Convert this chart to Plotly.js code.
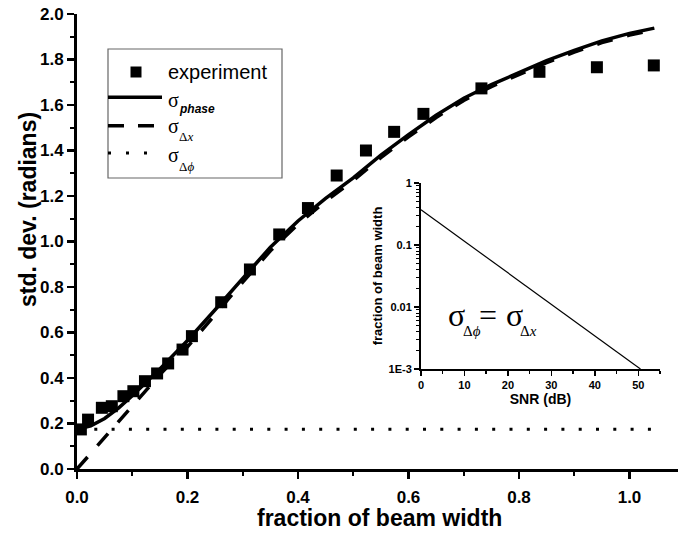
<!DOCTYPE html>
<html>
<head>
<meta charset="utf-8">
<script src="https://cdn.plot.ly/plotly-3.0.1.min.js"></script>
<style>html,body{margin:0;padding:0;background:#fff;}#chart{width:678px;height:533px;}</style>
</head>
<body>
<div id="chart"></div>
<script>
// ---- data ----
const expX = [0.007, 0.02, 0.045, 0.063, 0.084, 0.102, 0.123, 0.145, 0.165, 0.191, 0.208, 0.261, 0.313, 0.366, 0.418, 0.470, 0.523, 0.574, 0.627, 0.732, 0.837, 0.941, 1.044];
const expY = [0.174, 0.217, 0.269, 0.276, 0.320, 0.342, 0.386, 0.420, 0.464, 0.525, 0.584, 0.733, 0.877, 1.031, 1.147, 1.290, 1.400, 1.482, 1.561, 1.673, 1.746, 1.766, 1.774];

const curveX = [0, 0.025, 0.05, 0.075, 0.1, 0.125, 0.15, 0.175, 0.2, 0.25, 0.3, 0.35, 0.4, 0.45, 0.5, 0.55, 0.6, 0.65, 0.7, 0.75, 0.8, 0.85, 0.9, 0.95, 1.0, 1.045];
const phaseY = [0.175, 0.190, 0.222, 0.268, 0.322, 0.380, 0.440, 0.502, 0.565, 0.700, 0.840, 0.975, 1.090, 1.190, 1.280, 1.380, 1.470, 1.555, 1.630, 1.690, 1.742, 1.795, 1.840, 1.882, 1.915, 1.938];
const dxY    = [0.000, 0.070, 0.140, 0.210, 0.280, 0.350, 0.415, 0.478, 0.537, 0.678, 0.822, 0.959, 1.076, 1.177, 1.268, 1.369, 1.460, 1.545, 1.620, 1.681, 1.734, 1.786, 1.832, 1.874, 1.907, 1.930];

const dphiX = [0, 1.04];
const dphiY = [0.175, 0.175];

const snrX  = [0, 50.5];
const fracY = [0.37, 0.001];

const xTickVals = [0, 0.2, 0.4, 0.6, 0.8, 1.0];
const yTickVals = [0, 0.2, 0.4, 0.6, 0.8, 1.0, 1.2, 1.4, 1.6, 1.8, 2.0];
const insetXTicks = [0, 10, 20, 30, 40, 50];
const insetYTicks = [0.001, 0.01, 0.1, 1];
const insetYLabels = ['1E-3', '0.01', '0.1', '1'];

const legendLabels = ['experiment', 'phase', 'Δ<i>x</i>', 'Δ<i>ϕ</i>'];

// ---- layout helpers (pixel -> paper) ----
const L = 77, R = 678, T = 14, B = 469;
const PW = R - L, PH = B - T;
const px = v => (v - L) / PW;
const py = v => (B - v) / PH;

const SANS = 'Liberation Sans, Arial, sans-serif';
const SERIF = 'Liberation Serif, Times New Roman, serif';

const traces = [
  {x: dphiX, y: dphiY, mode: 'lines', line: {color: '#000', width: 3, dash: '3px,14.3px'}, hoverinfo: 'skip'},
  {x: curveX, y: dxY, mode: 'lines', line: {color: '#000', width: 3.5, dash: '16px,15px'}, hoverinfo: 'skip'},
  {x: curveX, y: phaseY, mode: 'lines', line: {color: '#000', width: 3.5}, hoverinfo: 'skip'},
  {x: expX, y: expY, mode: 'markers', marker: {symbol: 'square', size: 12, color: '#000'}, hoverinfo: 'skip'},
  {x: snrX, y: fracY, xaxis: 'x2', yaxis: 'y2', mode: 'lines', line: {color: '#000', width: 1.2}, hoverinfo: 'skip'}
];

// minor tick positions for the log inset axis
const logMinor = [];
for (let d = -3; d < 0; d++) for (let k = 2; k <= 9; k++) logMinor.push(k * Math.pow(10, d));

const tickFont = {family: SANS, size: 17, color: '#000', weight: 'bold'};
const insetTickFont = {family: SANS, size: 11, color: '#000', weight: 'bold'};

const shapes = [
  // legend box
  {type: 'rect', xref: 'paper', yref: 'paper', x0: px(108), x1: px(282), y0: py(49), y1: py(178), line: {color: '#666', width: 1.2}, fillcolor: 'rgba(0,0,0,0)', layer: 'above'},
  // legend symbols
  {type: 'rect', xref: 'paper', yref: 'paper', x0: px(130.5), x1: px(141.5), y0: py(66.5), y1: py(77.5), line: {width: 0}, fillcolor: '#000', layer: 'above'},
  {type: 'line', xref: 'paper', yref: 'paper', x0: px(108), x1: px(162), y0: py(97.3), y1: py(97.3), line: {color: '#000', width: 3.5}, layer: 'above'},
  {type: 'line', xref: 'paper', yref: 'paper', x0: px(108), x1: px(162), y0: py(125.7), y1: py(125.7), line: {color: '#000', width: 3.5, dash: '16px,14px'}, layer: 'above'},
  {type: 'line', xref: 'paper', yref: 'paper', x0: px(108), x1: px(162), y0: py(153), y1: py(153), line: {color: '#000', width: 3, dash: '3px,15px'}, layer: 'above'}
];

function ann(x, y, text, size, family, extra) {
  return Object.assign({xref: 'paper', yref: 'paper', x: px(x), y: py(y), text: text, showarrow: false,
    xanchor: 'left', yanchor: 'middle', font: {family: family, size: size, color: '#000'}}, extra || {});
}

const annotations = [
  // axis titles
  ann(379, 518, 'fraction of beam width', 23, SANS, {xanchor: 'center', font: {family: SANS, size: 23, color: '#000', weight: 'bold'}}),
  ann(28, 210, 'std. dev. (radians)', 23, SANS, {xanchor: 'center', textangle: -90, font: {family: SANS, size: 23, color: '#000', weight: 'bold'}}),
  // legend texts
  ann(166, 72, legendLabels[0], 20, SANS),
  ann(166, 99.5, 'σ', 20, SERIF),
  ann(177, 109, legendLabels[1], 12, SANS, {font: {family: SANS, size: 12, color: '#000', weight: 'bold', style: 'italic'}}),
  ann(166, 126, 'σ', 20, SERIF),
  ann(177, 136.5, legendLabels[2], 13, SERIF),
  ann(166, 154.5, 'σ', 20, SERIF),
  ann(177, 166, legendLabels[3], 13, SERIF),
  // inset equation
  ann(456, 315, 'σ', 32, SERIF, {xanchor: 'center'}),
  ann(461, 331, 'Δ<i>ϕ</i>', 15, SERIF),
  ann(488, 315, '=', 32, SERIF, {xanchor: 'center'}),
  ann(514, 315, 'σ', 32, SERIF, {xanchor: 'center'}),
  ann(518, 331, 'Δ<i>x</i>', 15, SERIF)
];

const layout = {
  width: 678, height: 533,
  margin: {l: L, r: 678 - R, t: T, b: 533 - B},
  paper_bgcolor: '#fff', plot_bgcolor: 'rgba(0,0,0,0)',
  showlegend: false,
  font: {family: SANS, color: '#000'},
  xaxis: {
    range: [0, PW / 552.5], tickvals: xTickVals, tickformat: '.1f',
    showline: true, linecolor: '#000', linewidth: 3, showgrid: false, zeroline: false,
    ticks: 'outside', ticklen: 7, tickwidth: 2.5, tickcolor: '#000', tickfont: tickFont, ticklabelstandoff: 4,
    minor: {dtick: 0.1, tick0: 0, ticks: 'outside', ticklen: 4, tickwidth: 2, tickcolor: '#000', showgrid: false}
  },
  yaxis: {
    range: [0, 2], tickvals: yTickVals, tickformat: '.1f',
    showline: true, linecolor: '#000', linewidth: 3, showgrid: false, zeroline: false,
    ticks: 'outside', ticklen: 7, tickwidth: 2.5, tickcolor: '#000', tickfont: tickFont,
    minor: {dtick: 0.1, tick0: 0, ticks: 'outside', ticklen: 4, tickwidth: 2, tickcolor: '#000', showgrid: false}
  },
  xaxis2: {
    domain: [px(421), px(660)], anchor: 'y2', range: [0, 55], tickvals: insetXTicks,
    showline: true, linecolor: '#000', linewidth: 2, showgrid: false, zeroline: false,
    ticks: 'outside', ticklen: 5, tickwidth: 1.5, tickcolor: '#000', tickfont: insetTickFont,
    minor: {dtick: 5, tick0: 0, ticks: 'outside', ticklen: 3, tickwidth: 1.5, tickcolor: '#000', showgrid: false},
    title: {text: 'SNR (dB)', font: {family: SANS, size: 14, color: '#000', weight: 'bold'}, standoff: 4}
  },
  yaxis2: {
    domain: [py(369), py(183)], anchor: 'x2', type: 'log', range: [-3, 0],
    tickvals: insetYTicks, ticktext: insetYLabels,
    showline: true, linecolor: '#000', linewidth: 2, showgrid: false, zeroline: false,
    ticks: 'outside', ticklen: 5, tickwidth: 1.5, tickcolor: '#000', tickfont: insetTickFont,
    minor: {tickvals: logMinor, ticks: 'outside', ticklen: 3, tickwidth: 1, tickcolor: '#000', showgrid: false},
    title: {text: 'fraction of beam width', font: {family: SANS, size: 13, color: '#000', weight: 'bold'}, standoff: 3}
  },
  shapes: shapes,
  annotations: annotations
};

Plotly.newPlot('chart', traces, layout, {staticPlot: true, displayModeBar: false});
</script>
</body>
</html>
